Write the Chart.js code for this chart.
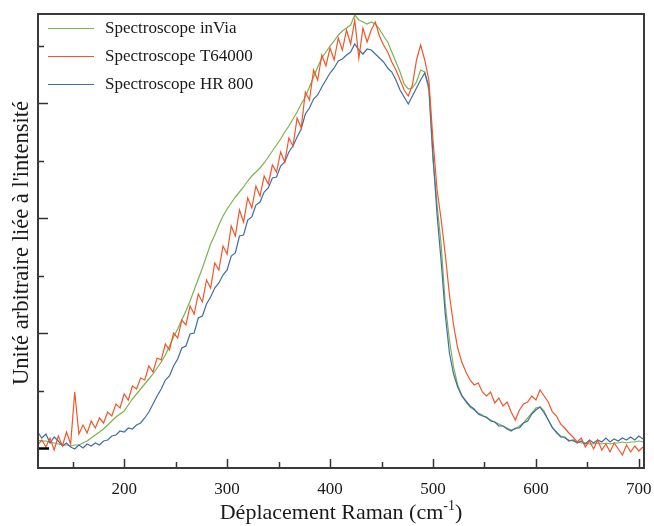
<!DOCTYPE html>
<html><head><meta charset="utf-8">
<script src="https://cdn.jsdelivr.net/npm/chart.js@4.4.1/dist/chart.umd.min.js"></script>
<style>html,body{margin:0;padding:0;background:#fff;}canvas{display:block;}</style>
</head><body>
<canvas id="c" width="654" height="526"></canvas>
<script>
// Raman shift (cm-1)
const ramanShift = [
116,120,124,128,132,136,140,144,148,152,
156,160,164,168,172,176,180,184,188,192,
196,200,204,208,212,216,220,224,228,232,
236,240,244,248,252,256,260,264,268,272,
276,280,284,288,292,296,300,304,308,312,
316,320,324,328,332,336,340,344,348,352,
356,360,364,368,372,376,380,384,388,392,
396,400,404,408,412,416,420,424,428,432,
436,440,444,448,452,456,460,464,468,472,
476,480,484,488,492,496,500,504,508,512,
516,520,524,528,532,536,540,544,548,552,
556,560,564,568,572,576,580,584,588,592,
596,600,604,608,612,616,620,624,628,632,
636,640,644,648,652,656,660,664,668,672,
676,680,684,688,692,696,700,704];

// Intensity (arbitrary units)
const inVia = [
80,70,70,60,50,40,30,30,20,30,
30,50,70,100,130,160,190,230,270,310,
340,370,430,490,540,590,640,690,740,800,
860,930,1020,1110,1190,1280,1370,1470,1580,1690,
1800,1920,2040,2130,2230,2320,2390,2450,2510,2560,
2610,2670,2720,2760,2800,2850,2910,2970,3030,3090,
3160,3220,3290,3360,3440,3510,3610,3710,3810,3900,
3960,4020,4070,4130,4170,4200,4230,4330,4280,4260,
4240,4260,4240,4190,4120,4060,3960,3860,3760,3640,
3590,3600,3660,3780,3760,3580,2880,2430,2030,1430,
1080,810,630,530,460,410,380,350,330,300,
280,260,240,220,200,180,190,220,250,300,
350,400,410,370,280,210,150,120,100,80,
70,60,50,50,40,40,50,40,50,40,
50,50,60,50,60,60,70,60];

const t64000 = [
30,80,10,100,-20,120,20,160,40,560,
140,230,150,270,200,300,250,360,320,440,
400,540,480,620,590,700,680,820,760,900,
880,1040,980,1150,1100,1280,1230,1420,1340,1540,
1460,1680,1600,1850,1780,2020,1940,2220,2120,2380,
2260,2500,2400,2620,2520,2720,2640,2830,2760,2960,
2860,3100,3020,3300,3200,3560,3480,3780,3680,3930,
3820,4000,3880,4100,3980,4180,4040,4280,3900,4200,
4060,4180,4260,4120,4030,3960,3860,3780,3680,3580,
3520,3630,3880,4030,3880,3680,3080,2580,2280,1930,
1530,1230,1000,860,760,680,630,650,560,520,
560,450,500,420,460,360,280,380,440,460,
520,480,580,520,460,360,320,240,200,150,
110,60,100,10,70,-10,80,-20,40,-40,
50,-10,-70,30,-40,20,-30,10];

const hr800 = [
160,100,140,50,110,70,20,50,10,-10,
30,0,40,20,50,30,70,80,120,130,
170,160,200,190,230,250,300,360,440,520,
590,680,720,820,890,1000,1020,1140,1150,1300,
1320,1440,1510,1600,1650,1730,1780,1920,1950,2120,
2130,2280,2310,2430,2460,2560,2600,2700,2710,2820,
2860,2960,3020,3110,3190,3340,3400,3490,3530,3610,
3680,3750,3800,3870,3890,3930,3960,4040,3980,3940,
3990,3980,3940,3900,3860,3800,3760,3680,3580,3510,
3440,3520,3600,3680,3750,3620,2930,2330,1860,1330,
950,740,610,520,470,420,390,340,320,310,
270,260,220,220,190,170,200,200,250,270,
340,380,410,350,280,200,160,110,110,70,
80,50,70,40,80,50,80,60,100,60,
90,70,100,80,110,80,120,90];

const seriesLabels = ['Spectroscope inVia','Spectroscope T64000','Spectroscope HR 800'];
const seriesColors = ['#7db24e','#f0562a','#3f6da6'];
const xTicksMajor = [200,300,400,500,600,700];
const xTicksMinor = [150,250,350,450,550,650];
const yTicksMajor = [0,1150,2300,3450];
const yTicksMinor = [575,1725,2875,4025];
const xTitle = 'Déplacement Raman (cm';
const xTitleSup = '-1';
const yTitle = "Unité arbitraire liée à l'intensité";

const SERIF = '"Liberation Serif","Times New Roman",serif';

function pts(arr){ return ramanShift.map((x,i)=>({x:x,y:arr[i]})); }

const decor = {
  id:'decor',
  afterDraw(chart){
    const ctx = chart.ctx, a = chart.chartArea;
    const xs = chart.scales.x, ys = chart.scales.y;
    ctx.save();
    ctx.strokeStyle = '#333'; ctx.lineWidth = 1.5;
    const tick = (x1,y1,x2,y2)=>{ctx.beginPath();ctx.moveTo(x1,y1);ctx.lineTo(x2,y2);ctx.stroke();};
    xTicksMajor.forEach(v=>{const p=Math.round(xs.getPixelForValue(v))+0.5; tick(p,a.bottom,p,a.bottom-9);});
    xTicksMinor.forEach(v=>{const p=Math.round(xs.getPixelForValue(v))+0.5; tick(p,a.bottom,p,a.bottom-6);});
    yTicksMajor.forEach(v=>{const p=Math.round(ys.getPixelForValue(v))+0.5;
      if(v===0){ctx.save();ctx.strokeStyle='#000';ctx.lineWidth=2.5;tick(a.left,p,a.left+11,p);ctx.restore();}
      else tick(a.left,p,a.left+10,p);});
    yTicksMinor.forEach(v=>{const p=Math.round(ys.getPixelForValue(v))+0.5; tick(a.left,p,a.left+6,p);});
    ctx.strokeStyle = '#3a3a3a'; ctx.lineWidth = 2;
    ctx.strokeRect(a.left, a.top, a.right-a.left, a.bottom-a.top);
    ctx.font = '17px '+SERIF; ctx.textBaseline='middle'; ctx.fillStyle='#1a1a1a';
    chart.data.datasets.forEach((d,i)=>{
      const y = a.top + 14 + i*28;
      ctx.strokeStyle = d.borderColor; ctx.lineWidth = 1;
      tick(a.left+10, y+0.5, a.left+56, y+0.5);
      ctx.fillText(d.label, a.left+67, y+1);
    });
    ctx.fillStyle = '#1a1a1a'; ctx.textBaseline = 'alphabetic';
    const f1 = '22px '+SERIF, f2 = '14px '+SERIF;
    ctx.font = f1; const w1 = ctx.measureText(xTitle).width, w3 = ctx.measureText(')').width;
    ctx.font = f2; const w2 = ctx.measureText(xTitleSup).width;
    let x0 = (a.left+a.right)/2 - (w1+w2+w3)/2; const by = 519;
    ctx.font = f1; ctx.textAlign='left'; ctx.fillText(xTitle, x0, by);
    ctx.font = f2; ctx.fillText(xTitleSup, x0+w1, by-9);
    ctx.font = f1; ctx.fillText(')', x0+w1+w2, by);
    ctx.save();
    ctx.translate(28, (a.top+a.bottom)/2 + 2);
    ctx.rotate(-Math.PI/2);
    ctx.font = '22.5px '+SERIF; ctx.textAlign='center'; ctx.textBaseline='alphabetic';
    ctx.fillText(yTitle, 0, 0);
    ctx.restore();
    ctx.restore();
  }
};

new Chart(document.getElementById('c'), {
  type:'line',
  data:{datasets:[
    {label:seriesLabels[0], data:pts(inVia), borderColor:seriesColors[0], order:3},
    {label:seriesLabels[1], data:pts(t64000), borderColor:seriesColors[1], order:1},
    {label:seriesLabels[2], data:pts(hr800), borderColor:seriesColors[2], order:2}
  ]},
  options:{
    responsive:false, animation:false, devicePixelRatio:1,
    layout:{padding:{top:14,right:10,left:0,bottom:0}},
    plugins:{legend:{display:false}, tooltip:{enabled:false}},
    elements:{point:{radius:0}, line:{borderWidth:1.2, tension:0}},
    scales:{
      x:{type:'linear', min:116.3, max:705,
        grid:{display:false, drawTicks:false}, border:{display:false},
        afterBuildTicks:s=>{s.ticks = xTicksMajor.map(v=>({value:v}));},
        ticks:{font:{family:SERIF,size:17}, color:'#1a1a1a', padding:11, maxRotation:0, autoSkip:false},
        afterFit:s=>{s.height=58; s.paddingLeft=0; s.paddingRight=0;}
      },
      y:{type:'linear', min:-200, max:4340,
        grid:{display:false, drawTicks:false}, border:{display:false},
        ticks:{display:false},
        afterFit:s=>{s.width=38; s.paddingTop=0; s.paddingBottom=0;}
      }
    }
  },
  plugins:[decor]
});
</script>
</body></html>
